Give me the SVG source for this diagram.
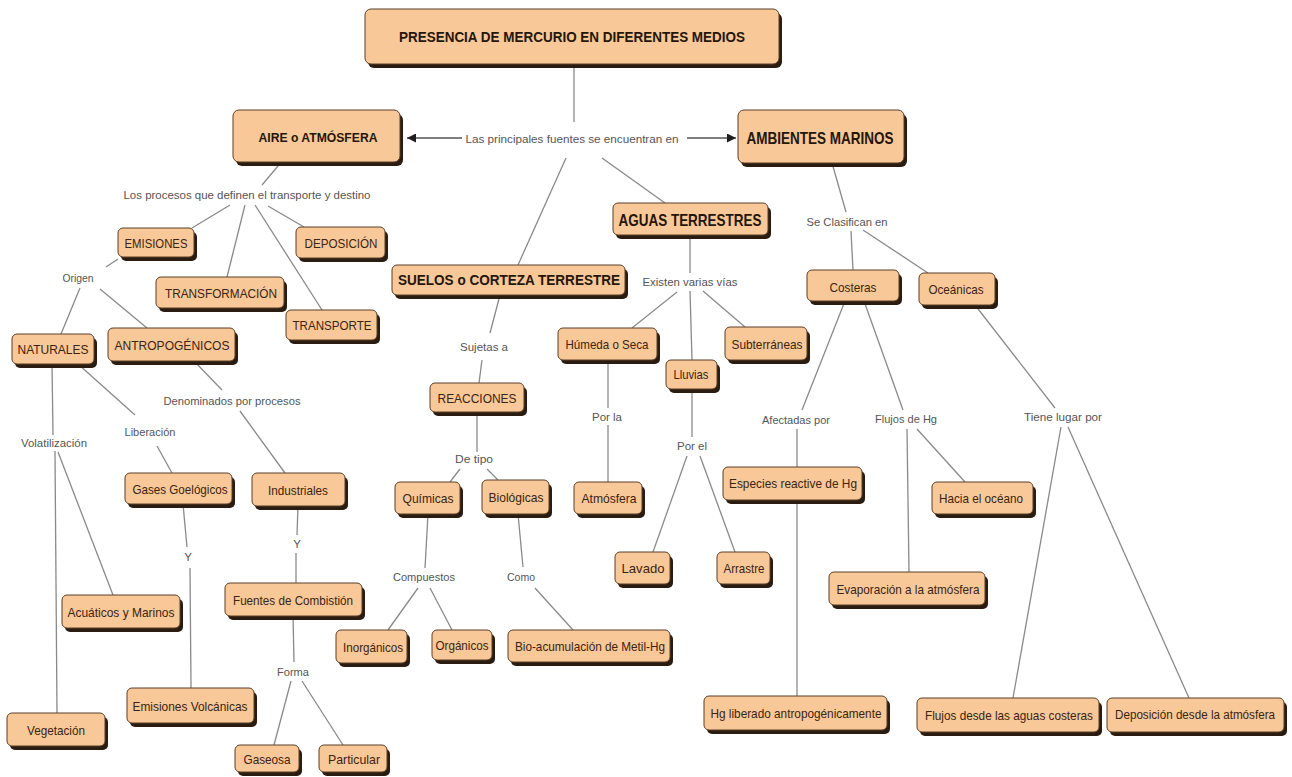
<svg xmlns="http://www.w3.org/2000/svg" width="1292" height="777" viewBox="0 0 1292 777">
  <style>
    .s { fill: #2a1c10; }
    .f { fill: #F9C898; stroke: #5a3f26; stroke-width: 1; }
    .t { font-family: "Liberation Sans", Arial, sans-serif; font-size: 13.5px; fill: #3a2412; text-anchor: middle; dominant-baseline: central; }
    .b { font-weight: bold; fill: #24160a; }
    .lp { font-family: "Liberation Sans", Arial, sans-serif; font-size: 11.5px; fill: #555555; text-anchor: middle; dominant-baseline: central; }
    .c line { stroke: #8a8a8a; stroke-width: 1.3; fill: none; }
    .c line.a { stroke: #555555; }
  </style>
  <defs>
    <marker id="arr" viewBox="0 0 10 10" refX="10" refY="5" markerWidth="9" markerHeight="9" markerUnits="userSpaceOnUse" orient="auto">
      <path d="M0,0 L10,5 L0,10 z" fill="#1e1e1e"/>
    </marker>
  </defs>
  <rect width="1292" height="777" fill="#ffffff"/>

  <!-- connectors -->
  <g id="connectors" class="c">
    <line x1="574" y1="66" x2="574" y2="122"/>
    <line class="a" x1="462" y1="138" x2="407" y2="138" marker-end="url(#arr)"/>
    <line class="a" x1="687" y1="138" x2="736" y2="138" marker-end="url(#arr)"/>
    <line x1="566" y1="158" x2="518" y2="265"/>
    <line x1="602" y1="158" x2="665" y2="203"/>

    <line x1="278" y1="166" x2="262" y2="185"/>
    <line x1="230" y1="205" x2="192" y2="228"/>
    <line x1="245" y1="205" x2="227" y2="277"/>
    <line x1="255" y1="205" x2="322" y2="310"/>
    <line x1="268" y1="206" x2="304" y2="227"/>
    <line x1="118" y1="259" x2="106" y2="267"/>
    <line x1="80" y1="288" x2="61" y2="334"/>
    <line x1="100" y1="289" x2="147" y2="328"/>
    <line x1="52" y1="364" x2="53" y2="435"/>
    <line x1="55" y1="451" x2="57" y2="713"/>
    <line x1="58" y1="452" x2="113" y2="595"/>
    <line x1="78" y1="364" x2="135" y2="415"/>
    <line x1="157" y1="446" x2="172" y2="473"/>
    <line x1="194" y1="361" x2="222" y2="390"/>
    <line x1="240" y1="411" x2="285" y2="473"/>
    <line x1="183" y1="504" x2="187" y2="547"/>
    <line x1="190" y1="568" x2="191" y2="688"/>
    <line x1="298" y1="506" x2="297" y2="535"/>
    <line x1="296" y1="553" x2="296" y2="583"/>
    <line x1="293" y1="616" x2="294" y2="662"/>
    <line x1="291" y1="681" x2="274" y2="745"/>
    <line x1="302" y1="681" x2="343" y2="745"/>

    <line x1="500" y1="295" x2="490" y2="333"/>
    <line x1="482" y1="360" x2="479" y2="383"/>
    <line x1="477" y1="412" x2="477" y2="452"/>
    <line x1="460" y1="469" x2="450" y2="482"/>
    <line x1="487" y1="469" x2="498" y2="480"/>
    <line x1="428" y1="514" x2="425" y2="568"/>
    <line x1="418" y1="588" x2="388" y2="630"/>
    <line x1="430" y1="588" x2="452" y2="630"/>
    <line x1="518" y1="514" x2="523" y2="567"/>
    <line x1="535" y1="588" x2="573" y2="630"/>

    <line x1="690" y1="235" x2="690" y2="273"/>
    <line x1="677" y1="292" x2="632" y2="328"/>
    <line x1="690" y1="291" x2="692" y2="360"/>
    <line x1="703" y1="291" x2="745" y2="327"/>
    <line x1="608" y1="360" x2="608" y2="408"/>
    <line x1="608" y1="425" x2="608" y2="482"/>
    <line x1="692" y1="389" x2="692" y2="437"/>
    <line x1="687" y1="456" x2="653" y2="552"/>
    <line x1="700" y1="456" x2="735" y2="552"/>

    <line x1="832" y1="163" x2="846" y2="212"/>
    <line x1="851" y1="231" x2="853" y2="270"/>
    <line x1="863" y1="230" x2="928" y2="273"/>
    <line x1="845" y1="301" x2="802" y2="410"/>
    <line x1="797" y1="429" x2="797" y2="467"/>
    <line x1="797" y1="500" x2="797" y2="696"/>
    <line x1="864" y1="301" x2="903" y2="410"/>
    <line x1="907" y1="429" x2="909" y2="572"/>
    <line x1="917" y1="429" x2="965" y2="482"/>
    <line x1="975" y1="305" x2="1055" y2="408"/>
    <line x1="1061" y1="427" x2="1013" y2="698"/>
    <line x1="1068" y1="427" x2="1189" y2="698"/>
  </g>

  <!-- linking phrases -->
  <g id="links">
    <text class="lp" x="572" y="139" textLength="213" lengthAdjust="spacingAndGlyphs">Las principales fuentes se encuentran en</text>
    <text class="lp" x="247" y="195" textLength="247" lengthAdjust="spacingAndGlyphs">Los procesos que definen el transporte y destino</text>
    <text class="lp" x="78" y="278" textLength="31" lengthAdjust="spacingAndGlyphs">Origen</text>
    <text class="lp" x="232" y="401" textLength="137" lengthAdjust="spacingAndGlyphs">Denominados por procesos</text>
    <text class="lp" x="150" y="432" textLength="51" lengthAdjust="spacingAndGlyphs">Liberación</text>
    <text class="lp" x="54" y="443" textLength="66" lengthAdjust="spacingAndGlyphs">Volatilización</text>
    <text class="lp" x="188" y="557">Y</text>
    <text class="lp" x="297" y="544">Y</text>
    <text class="lp" x="293" y="672" textLength="32" lengthAdjust="spacingAndGlyphs">Forma</text>
    <text class="lp" x="484" y="347" textLength="48" lengthAdjust="spacingAndGlyphs">Sujetas a</text>
    <text class="lp" x="690" y="282" textLength="95" lengthAdjust="spacingAndGlyphs">Existen varias vías</text>
    <text class="lp" x="474" y="459" textLength="38" lengthAdjust="spacingAndGlyphs">De tipo</text>
    <text class="lp" x="424" y="577" textLength="62" lengthAdjust="spacingAndGlyphs">Compuestos</text>
    <text class="lp" x="521" y="577" textLength="28" lengthAdjust="spacingAndGlyphs">Como</text>
    <text class="lp" x="607" y="417" textLength="30" lengthAdjust="spacingAndGlyphs">Por la</text>
    <text class="lp" x="692" y="446" textLength="30" lengthAdjust="spacingAndGlyphs">Por el</text>
    <text class="lp" x="847" y="222" textLength="81" lengthAdjust="spacingAndGlyphs">Se Clasifican en</text>
    <text class="lp" x="796" y="420" textLength="68" lengthAdjust="spacingAndGlyphs">Afectadas por</text>
    <text class="lp" x="906" y="419" textLength="62" lengthAdjust="spacingAndGlyphs">Flujos de Hg</text>
    <text class="lp" x="1063" y="417" textLength="78" lengthAdjust="spacingAndGlyphs">Tiene lugar por</text>
  </g>

  <!-- concept nodes -->
  <g id="n-root"><rect class="s" x="368" y="13" width="414" height="55" rx="6"/><rect class="f" x="365" y="9" width="414" height="55" rx="6"/><text class="t b" x="572" y="37" style="font-size:14.5px" textLength="346" lengthAdjust="spacingAndGlyphs">PRESENCIA DE MERCURIO EN DIFERENTES MEDIOS</text></g>
  <g id="n-aire"><rect class="s" x="236" y="114" width="167" height="52" rx="6"/><rect class="f" x="233" y="110" width="167" height="52" rx="6"/><text class="t b" x="318" y="137" style="font-size:13.5px" textLength="119" lengthAdjust="spacingAndGlyphs">AIRE o ATMÓSFERA</text></g>
  <g id="n-marinos"><rect class="s" x="741" y="114" width="166" height="53" rx="6"/><rect class="f" x="738" y="110" width="166" height="53" rx="6"/><text class="t b" x="820" y="138" style="font-size:17px" textLength="147" lengthAdjust="spacingAndGlyphs">AMBIENTES MARINOS</text></g>
  <g id="n-aguas"><rect class="s" x="616" y="207" width="155" height="32" rx="5"/><rect class="f" x="613" y="203" width="155" height="32" rx="5"/><text class="t b" x="690" y="220" style="font-size:16.5px" textLength="143" lengthAdjust="spacingAndGlyphs">AGUAS TERRESTRES</text></g>
  <g id="n-suelos"><rect class="s" x="395" y="269" width="233" height="30" rx="5"/><rect class="f" x="392" y="265" width="233" height="30" rx="5"/><text class="t b" x="509" y="280" style="font-size:14px" textLength="222" lengthAdjust="spacingAndGlyphs">SUELOS o CORTEZA TERRESTRE</text></g>

  <g id="n-emisiones"><rect class="s" x="121" y="232" width="76" height="29" rx="5"/><rect class="f" x="118" y="228" width="76" height="29" rx="5"/><text class="t" x="156" y="243" textLength="63" lengthAdjust="spacingAndGlyphs">EMISIONES</text></g>
  <g id="n-deposicion"><rect class="s" x="299" y="231" width="89" height="31" rx="5"/><rect class="f" x="296" y="227" width="89" height="31" rx="5"/><text class="t" x="341" y="243" textLength="73" lengthAdjust="spacingAndGlyphs">DEPOSICIÓN</text></g>
  <g id="n-transformacion"><rect class="s" x="159" y="281" width="128" height="31" rx="5"/><rect class="f" x="156" y="277" width="128" height="31" rx="5"/><text class="t" x="221" y="293" textLength="112" lengthAdjust="spacingAndGlyphs">TRANSFORMACIÓN</text></g>
  <g id="n-transporte"><rect class="s" x="289" y="314" width="91" height="30" rx="5"/><rect class="f" x="286" y="310" width="91" height="30" rx="5"/><text class="t" x="332" y="325" textLength="79" lengthAdjust="spacingAndGlyphs">TRANSPORTE</text></g>
  <g id="n-naturales"><rect class="s" x="15" y="338" width="82" height="30" rx="5"/><rect class="f" x="12" y="334" width="82" height="30" rx="5"/><text class="t" x="53" y="349" textLength="71" lengthAdjust="spacingAndGlyphs">NATURALES</text></g>
  <g id="n-antropogenicos"><rect class="s" x="111" y="332" width="127" height="33" rx="5"/><rect class="f" x="108" y="328" width="127" height="33" rx="5"/><text class="t" x="172" y="345" textLength="115" lengthAdjust="spacingAndGlyphs">ANTROPOGÉNICOS</text></g>
  <g id="n-gases"><rect class="s" x="128" y="477" width="107" height="31" rx="5"/><rect class="f" x="125" y="473" width="107" height="31" rx="5"/><text class="t" x="180" y="489" textLength="95" lengthAdjust="spacingAndGlyphs">Gases Goelógicos</text></g>
  <g id="n-industriales"><rect class="s" x="255" y="477" width="93" height="33" rx="5"/><rect class="f" x="252" y="473" width="93" height="33" rx="5"/><text class="t" x="298" y="490" textLength="60" lengthAdjust="spacingAndGlyphs">Industriales</text></g>
  <g id="n-acuaticos"><rect class="s" x="65" y="599" width="118" height="33" rx="5"/><rect class="f" x="62" y="595" width="118" height="33" rx="5"/><text class="t" x="121" y="612" textLength="107" lengthAdjust="spacingAndGlyphs">Acuáticos y Marinos</text></g>
  <g id="n-vegetacion"><rect class="s" x="10" y="717" width="98" height="33" rx="5"/><rect class="f" x="7" y="713" width="98" height="33" rx="5"/><text class="t" x="56" y="730" textLength="58" lengthAdjust="spacingAndGlyphs">Vegetación</text></g>
  <g id="n-volcanicas"><rect class="s" x="130" y="692" width="127" height="35" rx="5"/><rect class="f" x="127" y="688" width="127" height="35" rx="5"/><text class="t" x="190" y="706" textLength="115" lengthAdjust="spacingAndGlyphs">Emisiones Volcánicas</text></g>
  <g id="n-combustion"><rect class="s" x="228" y="587" width="137" height="33" rx="5"/><rect class="f" x="225" y="583" width="137" height="33" rx="5"/><text class="t" x="293" y="600" textLength="120" lengthAdjust="spacingAndGlyphs">Fuentes de Combistión</text></g>
  <g id="n-gaseosa"><rect class="s" x="238" y="749" width="64" height="27" rx="5"/><rect class="f" x="235" y="745" width="64" height="27" rx="5"/><text class="t" x="267" y="759" textLength="47" lengthAdjust="spacingAndGlyphs">Gaseosa</text></g>
  <g id="n-particular"><rect class="s" x="322" y="749" width="68" height="27" rx="5"/><rect class="f" x="319" y="745" width="68" height="27" rx="5"/><text class="t" x="354" y="759" textLength="52" lengthAdjust="spacingAndGlyphs">Particular</text></g>

  <g id="n-reacciones"><rect class="s" x="433" y="387" width="94" height="29" rx="5"/><rect class="f" x="430" y="383" width="94" height="29" rx="5"/><text class="t" x="477" y="398" textLength="79" lengthAdjust="spacingAndGlyphs">REACCIONES</text></g>
  <g id="n-quimicas"><rect class="s" x="398" y="486" width="65" height="32" rx="5"/><rect class="f" x="395" y="482" width="65" height="32" rx="5"/><text class="t" x="428" y="498" textLength="51" lengthAdjust="spacingAndGlyphs">Químicas</text></g>
  <g id="n-biologicas"><rect class="s" x="485" y="484" width="67" height="34" rx="5"/><rect class="f" x="482" y="480" width="67" height="34" rx="5"/><text class="t" x="516" y="497" textLength="55" lengthAdjust="spacingAndGlyphs">Biológicas</text></g>
  <g id="n-inorganicos"><rect class="s" x="339" y="634" width="71" height="33" rx="5"/><rect class="f" x="336" y="630" width="71" height="33" rx="5"/><text class="t" x="373" y="647" textLength="60" lengthAdjust="spacingAndGlyphs">Inorgánicos</text></g>
  <g id="n-organicos"><rect class="s" x="435" y="634" width="60" height="30" rx="5"/><rect class="f" x="432" y="630" width="60" height="30" rx="5"/><text class="t" x="462" y="645" textLength="53" lengthAdjust="spacingAndGlyphs">Orgánicos</text></g>
  <g id="n-bio"><rect class="s" x="511" y="634" width="162" height="32" rx="5"/><rect class="f" x="508" y="630" width="162" height="32" rx="5"/><text class="t" x="590" y="646" textLength="150" lengthAdjust="spacingAndGlyphs">Bio-acumulación de Metil-Hg</text></g>

  <g id="n-humeda"><rect class="s" x="561" y="332" width="99" height="32" rx="5"/><rect class="f" x="558" y="328" width="99" height="32" rx="5"/><text class="t" x="607" y="344" textLength="83" lengthAdjust="spacingAndGlyphs">Húmeda o Seca</text></g>
  <g id="n-subterraneas"><rect class="s" x="728" y="331" width="82" height="33" rx="5"/><rect class="f" x="725" y="327" width="82" height="33" rx="5"/><text class="t" x="767" y="344" textLength="71" lengthAdjust="spacingAndGlyphs">Subterráneas</text></g>
  <g id="n-lluvias"><rect class="s" x="669" y="364" width="51" height="29" rx="5"/><rect class="f" x="666" y="360" width="51" height="29" rx="5"/><text class="t" x="691" y="374" textLength="35" lengthAdjust="spacingAndGlyphs">Lluvias</text></g>
  <g id="n-atmosfera"><rect class="s" x="577" y="486" width="68" height="32" rx="5"/><rect class="f" x="574" y="482" width="68" height="32" rx="5"/><text class="t" x="609" y="498" textLength="55" lengthAdjust="spacingAndGlyphs">Atmósfera</text></g>
  <g id="n-lavado"><rect class="s" x="618" y="556" width="55" height="32" rx="5"/><rect class="f" x="615" y="552" width="55" height="32" rx="5"/><text class="t" x="643" y="568" textLength="43" lengthAdjust="spacingAndGlyphs">Lavado</text></g>
  <g id="n-arrastre"><rect class="s" x="720" y="556" width="53" height="32" rx="5"/><rect class="f" x="717" y="552" width="53" height="32" rx="5"/><text class="t" x="744" y="568" textLength="41" lengthAdjust="spacingAndGlyphs">Arrastre</text></g>

  <g id="n-costeras"><rect class="s" x="810" y="274" width="92" height="31" rx="5"/><rect class="f" x="807" y="270" width="92" height="31" rx="5"/><text class="t" x="853" y="287" textLength="47" lengthAdjust="spacingAndGlyphs">Costeras</text></g>
  <g id="n-oceanicas"><rect class="s" x="922" y="277" width="76" height="32" rx="5"/><rect class="f" x="919" y="273" width="76" height="32" rx="5"/><text class="t" x="956" y="289" textLength="55" lengthAdjust="spacingAndGlyphs">Oceánicas</text></g>
  <g id="n-especies"><rect class="s" x="726" y="471" width="139" height="33" rx="5"/><rect class="f" x="723" y="467" width="139" height="33" rx="5"/><text class="t" x="793" y="483" textLength="128" lengthAdjust="spacingAndGlyphs">Especies reactive de Hg</text></g>
  <g id="n-hacia"><rect class="s" x="935" y="486" width="101" height="32" rx="5"/><rect class="f" x="932" y="482" width="101" height="32" rx="5"/><text class="t" x="981" y="498" textLength="84" lengthAdjust="spacingAndGlyphs">Hacia el océano</text></g>
  <g id="n-evaporacion"><rect class="s" x="832" y="576" width="156" height="33" rx="5"/><rect class="f" x="829" y="572" width="156" height="33" rx="5"/><text class="t" x="908" y="589" textLength="143" lengthAdjust="spacingAndGlyphs">Evaporación a la atmósfera</text></g>
  <g id="n-hgliberado"><rect class="s" x="707" y="700" width="183" height="34" rx="5"/><rect class="f" x="704" y="696" width="183" height="34" rx="5"/><text class="t" x="796" y="713" textLength="171" lengthAdjust="spacingAndGlyphs">Hg liberado antropogénicamente</text></g>
  <g id="n-flujosdesde"><rect class="s" x="920" y="702" width="182" height="34" rx="5"/><rect class="f" x="917" y="698" width="182" height="34" rx="5"/><text class="t" x="1009" y="715" textLength="168" lengthAdjust="spacingAndGlyphs">Flujos desde las aguas costeras</text></g>
  <g id="n-deposiciondesde"><rect class="s" x="1110" y="702" width="177" height="34" rx="5"/><rect class="f" x="1107" y="698" width="177" height="34" rx="5"/><text class="t" x="1195" y="715" style="font-size:12.5px" textLength="160" lengthAdjust="spacingAndGlyphs">Deposición desde la atmósfera</text></g>
</svg>
